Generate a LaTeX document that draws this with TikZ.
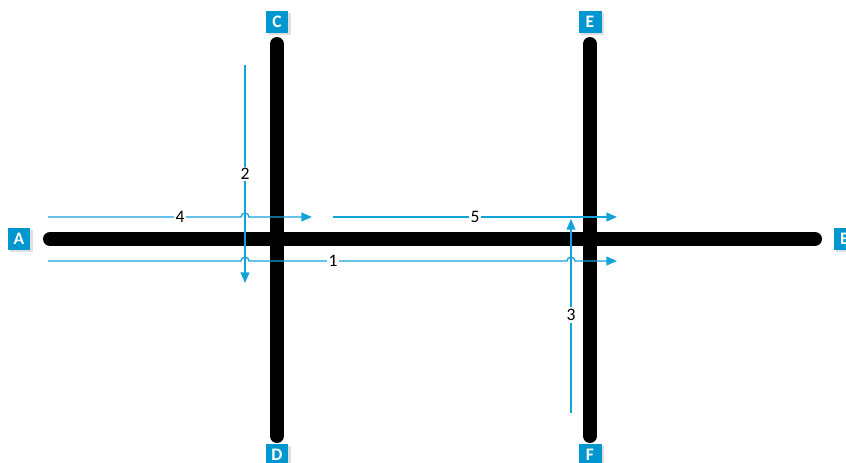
\documentclass[tikz,border=0pt]{standalone}
\usepackage{fontspec}
\setmainfont{Carlito}
\usetikzlibrary{arrows.meta,shadows}
\definecolor{flowblue}{RGB}{20,162,218}
\definecolor{tagblue}{RGB}{0,150,208}
\tikzset{
  road/.style={line width=0.28cm,line cap=round},
  flow/.style={flowblue,line width=0.75pt,-{Triangle[length=6pt,width=5pt]}},
  tag/.style={fill=tagblue,text=white,font=\fontsize{10}{11}\selectfont\bfseries,
    minimum width=0.46cm,minimum height=0.44cm,inner sep=0pt,
    general shadow={fill=gray!25,shadow xshift=1.3pt,shadow yshift=-1.3pt}},
  num/.style={fill=white,inner sep=1pt,font=\fontsize{10}{11}\selectfont}
}
\begin{document}
\begin{tikzpicture}[x=0.02cm,y=-0.02cm]
  \useasboundingbox (0,0) rectangle (846,463);
  % roads
  \coordinate (aend) at (50,239);
  \coordinate (bend) at (815,239);
  \coordinate (cend) at (277,44);
  \coordinate (dend) at (277,436);
  \coordinate (eend) at (590,44);
  \coordinate (fend) at (590,436);
  \draw[road] (aend) -- (bend);
  \draw[road] (cend) -- (dend);
  \draw[road] (eend) -- (fend);
  % tags
  \node[tag] (A) at (19,239) {A};
  \node[tag] (B) at (845,239) {B};
  \node[tag] (C) at (277,22) {C};
  \node[tag] (D) at (277,455) {D};
  \node[tag] (E) at (590,22) {E};
  \node[tag] (F) at (590,455) {F};
  % flow 2: C side down
  \coordinate (f2s) at (245,65);
  \coordinate (f2e) at (245,283);
  \draw[flow] (f2s) -- (f2e);
  \node[num] (n2) at (245,174) {2};
  % flow 3: F side up
  \coordinate (f3s) at (571,413);
  \coordinate (f3e) at (571,219);
  \draw[flow] (f3s) -- (f3e);
  \node[num] (n3) at (571,315) {3};
  % flow 4: A to C-D crossing
  \coordinate (f4s) at (48,217);
  \coordinate (f4e) at (312,217);
  \draw[flow] (f4s) -- ++(193,0) arc[start angle=180,end angle=360,radius=4] -- (f4e);
  \node[num] (n4) at (180,217) {4};
  % flow 5
  \coordinate (f5s) at (333,217);
  \coordinate (f5e) at (617,217);
  \draw[flow] (f5s) -- (f5e);
  \node[num] (n5) at (475,217) {5};
  % flow 1: A to B
  \coordinate (f1s) at (48,261);
  \coordinate (f1e) at (617,261);
  \draw[flow] (f1s) -- ++(193,0) arc[start angle=180,end angle=360,radius=4]
    -- ++(318,0) arc[start angle=180,end angle=360,radius=4] -- (f1e);
  \node[num] (n1) at (333,261) {1};
\end{tikzpicture}
\end{document}
